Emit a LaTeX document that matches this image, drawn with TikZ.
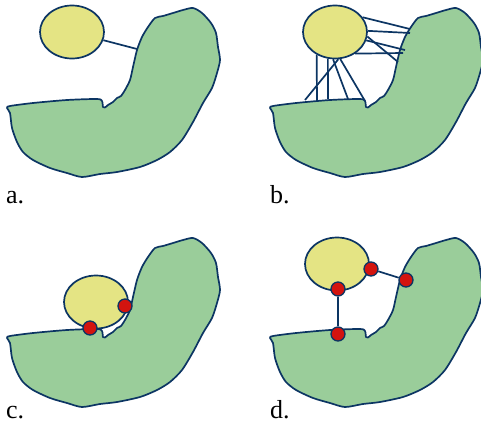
\documentclass[tikz,border=0pt]{standalone}
\usepackage{fontspec}
\setmainfont{Liberation Serif}
\usetikzlibrary{shapes.geometric}
\definecolor{edgec}{HTML}{0C3563}
\definecolor{landc}{HTML}{9ACD9A}
\definecolor{lakec}{HTML}{E4E484}
\definecolor{hitc}{HTML}{D3140F}
\tikzset{
  land/.style={draw=edgec,line width=1.7pt,fill=landc,line join=round},
  lake/.style={ellipse,draw=edgec,line width=1.7pt,fill=lakec,minimum width=64pt,minimum height=53pt,inner sep=0pt},
  ln/.style={edgec,line width=1.7pt},
  hit/.style={circle,draw=edgec,line width=1.3pt,fill=hitc,minimum size=14pt,inner sep=0pt},
  lbl/.style={anchor=base west,inner sep=0pt,font=\fontsize{26}{28}\selectfont}
}
\newcommand\landat[1]{\draw[land,shift={#1}] plot[smooth cycle,tension=0.45] coordinates{
  (7,108) (10,106) (33,103) (67,100) (97,99) (102,101) (103,107) (105,107.5) (108,105)
  (113,102) (117,98) (121,96) (125,90) (130,80) (133,67) (137,50) (142,37) (148,27)
  (155,18) (163,16) (173,13) (183,10) (193,8) (202,13) (211,23) (216,33)
  (218,47) (220,60) (217,73) (212,88) (203,103) (193,122) (182,140) (170,152) (157,160)
  (140,167) (117,172) (100,174) (82,177) (67,173) (50,168) (33,160) (23,152) (17,142)
  (12,128) (10,113)};}

\begin{document}
\begin{tikzpicture}[x=1pt,y=-1pt]
\useasboundingbox (0,0) rectangle (481,424);
% a.
\landat{(0,0)}
\node[lake] (la) at (72,32) {};
\coordinate (ea) at (137,49);
\draw[ln] (la) -- (ea);
\node[lbl] (ta) at (6,203) {a.};
% b.
\landat{(263,0)}
\node[lake] (lb) at (335,32) {};
\coordinate (b1) at (317,100); \coordinate (b2) at (328,99);
\coordinate (b3) at (305,100); \coordinate (b4) at (348,99);
\coordinate (b5) at (365,101); \coordinate (b6) at (403,53);
\coordinate (b7) at (410,29); \coordinate (b8) at (410,33);
\coordinate (b9) at (405,50); \coordinate (b10) at (398,62);
\draw[ln] (lb.231)--(b1); \draw[ln] (lb.255)--(b2);
\draw[ln] (lb.277)--(b3); \draw[ln] (lb.266)--(b4);
\draw[ln] (lb.281)--(b5); \draw[ln] (lb.313)--(b6);
\draw[ln] (lb.28)--(b7); \draw[ln] (lb.2)--(b8);
\draw[ln] (lb.345)--(b9); \draw[ln] (lb.352)--(b10);
\node[lbl] (tb) at (270,203) {b.};
% c.
\landat{(0,230)}
\node[lake] (lc) at (96,302) {};
\node[hit] (c1) at (90,328) {}; \node[hit] (c2) at (125,306) {};
\node[lbl] (tc) at (6,418) {c.};
% d.
\landat{(263,230)}
\node[lake] (ld) at (337,264) {};
\node[hit] (d1) at (338,289) {}; \node[hit] (d2) at (371,269) {};
\node[hit] (d3) at (406,280) {}; \node[hit] (d4) at (338,334) {};
\draw[ln] (d1)--(d4); \draw[ln] (d2)--(d3);
\node[lbl] (td) at (270,418) {d.};
\end{tikzpicture}
\end{document}
